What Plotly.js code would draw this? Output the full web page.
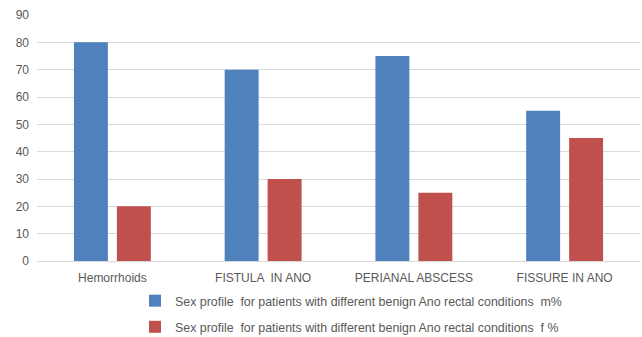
<!DOCTYPE html>
<html>
<head>
<meta charset="utf-8">
<script src="https://cdn.plot.ly/plotly-3.0.1.min.js"></script>
<style>html,body{margin:0;padding:0;background:#fff;}#chart{width:642px;height:337px;}</style>
</head>
<body>
<div id="chart"></div>
<script>
const categories = ["Hemorrhoids", "FISTULA  IN ANO", "PERIANAL ABSCESS", "FISSURE IN ANO"];
const maleValues = [80, 70, 75, 55];
const femaleValues = [20, 30, 25, 45];
const seriesNames = [
  "Sex profile  for patients with different benign Ano rectal conditions  m%",
  "Sex profile  for patients with different benign Ano rectal conditions  f %"
];
const yTicks = [0, 10, 20, 30, 40, 50, 60, 70, 80, 90];

const traces = [
  {type: "bar", x: categories, y: maleValues, name: seriesNames[0], legendgroup: "m",
   marker: {color: "#4F81BD"}, hoverinfo: "y"},
  {type: "bar", x: categories, y: femaleValues, name: seriesNames[1], legendgroup: "f",
   marker: {color: "#C0504D"}, hoverinfo: "y"}
];

const layout = {
  width: 642, height: 337,
  margin: {l: 37, r: 2, t: 15, b: 76},
  paper_bgcolor: "#fff", plot_bgcolor: "#fff",
  font: {family: "Liberation Sans, Arial, sans-serif", size: 12, color: "#595959"},
  barmode: "group",
  bargap: 0.43,
  bargroupgap: 0.21,
  showlegend: true,
  legend: {orientation: "v", x: 0.1625, xanchor: "left", xref: "paper",
           y: 0.151, yanchor: "top", yref: "container",
           traceorder: "grouped", tracegroupgap: 7, itemwidth: 30,
           font: {size: 12.4, color: "#595959"}},
  xaxis: {type: "category", showgrid: false, showline: true, linecolor: "#D9D9D9", linewidth: 1,
          ticks: "", ticklabelstandoff: 6, tickfont: {size: 12, color: "#595959"}, automargin: false},
  yaxis: {range: [0, 90], tickvals: yTicks, showgrid: true, gridcolor: "#D9D9D9", gridwidth: 1,
          zeroline: false, showline: false, ticks: "", ticklabelstandoff: 7, automargin: false,
          tickfont: {size: 12, color: "#595959"}}
};

Plotly.newPlot("chart", traces, layout, {displayModeBar: false, staticPlot: true});
</script>
</body>
</html>
